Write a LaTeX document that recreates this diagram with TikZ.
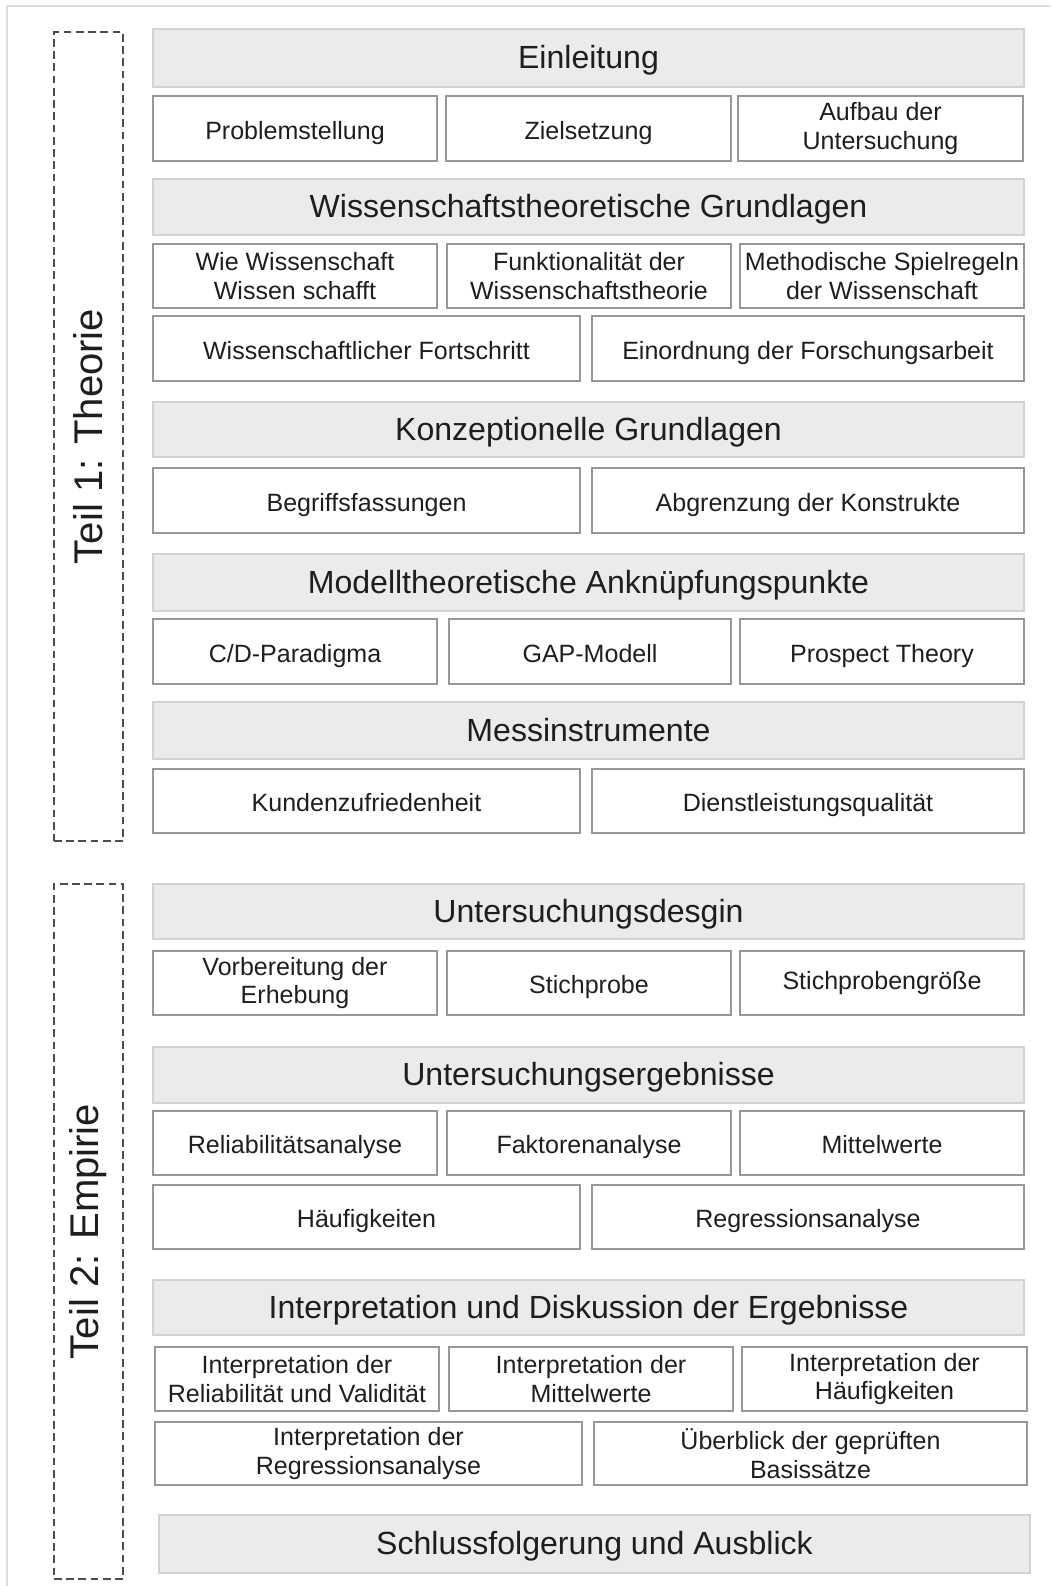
\documentclass[tikz,border=0pt]{standalone}
\usepackage{fontspec}
\setmainfont{Liberation Sans}
\usepackage{tikz}
\usepackage{xcolor}
\definecolor{headfill}{HTML}{EBEBEB}
\definecolor{headline}{HTML}{D2D2D2}
\definecolor{subline}{HTML}{979797}
\definecolor{txt}{HTML}{1E1E1E}

\begin{document}
\begin{tikzpicture}[x=0.25mm,y=-0.25mm,
  cell/.style 2 args={minimum width=#1*0.25mm,minimum height=#2*0.25mm},
  headbox/.style={draw=headline,fill=headfill,line width=1.1pt,inner sep=0pt,text=txt,
    text height=20.5pt,text depth=5pt,font=\fontsize{22.8}{27}\selectfont},
  subbox/.style={draw=subline,line width=1.3pt,inner sep=0pt,align=center,text=txt,font=\fontsize{17.8}{20.5}\selectfont},
  oneline/.style={text height=19.5pt,text depth=4.5pt},
  partbox/.style={draw=black!70,dash pattern=on 5.5pt off 3.2pt,line width=1.3pt,inner sep=0pt},
  partlabel/.style={rotate=90,text=txt,font=\fontsize{28.5}{32}\selectfont}]
\useasboundingbox (0,0) rectangle (1051,1586);
\draw[black!13,line width=1.2pt] (1051,6) -- (7,6) -- (7,1586);

% Teil 1
\node[partbox,cell={69}{809}] (teil1) at (88.5,436.5) {};
\node[partlabel] (teil1lbl) at (teil1.center) {Teil 1: Theorie};

\node[headbox,cell={871}{58}] (einl) at (588.5,58) {Einleitung};
\node[subbox,oneline,cell={284}{65}] (probl) at (295,128.5) {Problemstellung};
\node[subbox,oneline,cell={285}{65}] (ziel) at (588.5,128.5) {Zielsetzung};
\node[subbox,cell={285}{65}] (aufbau) at (880.5,128.5) {Aufbau der\\Untersuchung};

\node[headbox,cell={871}{56}] (wtg) at (588.5,207) {Wissenschaftstheoretische Grundlagen};
\node[subbox,cell={284}{64}] (wie) at (295,276) {Wie Wissenschaft\\Wissen schafft};
\node[subbox,cell={284}{64}] (funk) at (589,276) {Funktionalität der\\Wissenschaftstheorie};
\node[subbox,cell={284}{64}] (meth) at (882,276) {Methodische Spielregeln\\der Wissenschaft};
\node[subbox,oneline,cell={427}{65}] (fort) at (366.5,348.5) {Wissenschaftlicher Fortschritt};
\node[subbox,oneline,cell={432}{65}] (einord) at (808,348.5) {Einordnung der Forschungsarbeit};

\node[headbox,cell={871}{55}] (konz) at (588.5,429.5) {Konzeptionelle Grundlagen};
\node[subbox,oneline,cell={427}{65}] (begr) at (366.5,500.5) {Begriffsfassungen};
\node[subbox,oneline,cell={432}{65}] (abgr) at (808,500.5) {Abgrenzung der Konstrukte};

\node[headbox,cell={871}{57}] (modell) at (588.5,582.5) {Modelltheoretische Anknüpfungspunkte};
\node[subbox,oneline,cell={284}{65}] (cd) at (295,651.5) {C/D-Paradigma};
\node[subbox,oneline,cell={282}{65}] (gap) at (590,651.5) {GAP-Modell};
\node[subbox,oneline,cell={284}{65}] (prosp) at (882,651.5) {Prospect Theory};

\node[headbox,cell={871}{57}] (mess) at (588.5,730.5) {Messinstrumente};
\node[subbox,oneline,cell={427}{64}] (kunden) at (366.5,801) {Kundenzufriedenheit};
\node[subbox,oneline,cell={432}{64}] (dienst) at (808,801) {Dienstleistungsqualität};

% Teil 2
\node[partbox,cell={69}{695}] (teil2) at (88.5,1231.5) {};
\node[partlabel] (teil2lbl) at (teil2.center) {Teil 2: Empirie};

\node[headbox,cell={871}{55}] (design) at (588.5,911.5) {Untersuchungsdesgin};
\node[subbox,cell={284}{64}] (vorb) at (295,983) {Vorbereitung der\\Erhebung};
\node[subbox,oneline,cell={284}{64}] (stich) at (589,983) {Stichprobe};
\node[subbox,cell={284}{64}] (stichgr) at (882,983) {Stichprobengröße};

\node[headbox,cell={871}{56}] (ergeb) at (588.5,1075) {Untersuchungsergebnisse};
\node[subbox,oneline,cell={284}{64}] (rel) at (295,1143) {Reliabilitätsanalyse};
\node[subbox,oneline,cell={284}{64}] (fakt) at (589,1143) {Faktorenanalyse};
\node[subbox,oneline,cell={284}{64}] (mittel) at (882,1143) {Mittelwerte};
\node[subbox,oneline,cell={427}{64}] (haeuf) at (366.5,1217) {Häufigkeiten};
\node[subbox,oneline,cell={432}{64}] (regr) at (808,1217) {Regressionsanalyse};

\node[headbox,cell={871}{55}] (interp) at (588.5,1307.5) {Interpretation und Diskussion der Ergebnisse};
\node[subbox,cell={284}{64}] (irel) at (297,1379) {Interpretation der\\Reliabilität und Validität};
\node[subbox,cell={284}{64}] (imit) at (591,1379) {Interpretation der\\Mittelwerte};
\node[subbox,cell={285}{64}] (ihaeuf) at (884.5,1379) {Interpretation der\\Häufigkeiten};
\node[subbox,cell={427}{63}] (iregr) at (368.5,1453.5) {Interpretation der\\Regressionsanalyse};
\node[subbox,cell={433}{63}] (ueber) at (810.5,1453.5) {Überblick der geprüften\\Basissätze};

\node[headbox,cell={871}{58}] (schluss) at (594.5,1544) {Schlussfolgerung und Ausblick};
\end{tikzpicture}
\end{document}
